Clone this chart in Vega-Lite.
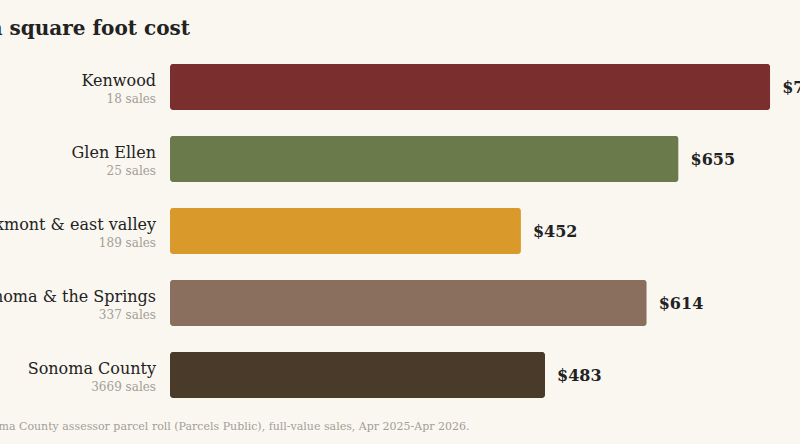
{
  "$schema": "https://vega.github.io/schema/vega-lite/v6.json",
  "autosize": "none",
  "width": 630,
  "height": 360,
  "padding": {"left": 170, "top": 51, "right": 0, "bottom": 33},
  "background": "#faf7f0",
  "config": {"view": {"stroke": null}},
  "title": {
    "text": "Median square foot cost",
    "anchor": "start",
    "frame": "group",
    "align": "right",
    "dx": 20,
    "offset": 12,
    "font": "DejaVu Serif",
    "fontSize": 20,
    "fontWeight": "bold",
    "color": "#222222"
  },
  "data": {
    "values": [
      {"area": "Kenwood", "sales": "18 sales", "cost": 773},
      {"area": "Glen Ellen", "sales": "25 sales", "cost": 655},
      {"area": "Oakmont & east valley", "sales": "189 sales", "cost": 452},
      {"area": "Sonoma & the Springs", "sales": "337 sales", "cost": 614},
      {"area": "Sonoma County", "sales": "3669 sales", "cost": 483}
    ]
  },
  "encoding": {
    "y": {
      "field": "area",
      "type": "nominal",
      "sort": null,
      "scale": {"paddingInner": 0.36, "paddingOuter": 0.18},
      "axis": null
    }
  },
  "layer": [
    {
      "mark": {"type": "bar", "cornerRadius": 3},
      "encoding": {
        "x": {
          "field": "cost",
          "type": "quantitative",
          "scale": {"domain": [0, 811.4], "nice": false},
          "axis": {
            "labels": false,
            "ticks": false,
            "domain": false,
            "grid": false,
            "title": "Source: Sonoma County assessor parcel roll (Parcels Public), full-value sales, Apr 2025-Apr 2026.",
            "titleAnchor": "start",
            "titleAlign": "right",
            "titleX": 299,
            "titleY": 9,
            "titleFont": "DejaVu Serif",
            "titleFontSize": 11,
            "titleFontWeight": "normal",
            "titleColor": "#a29e97"
          }
        },
        "color": {
          "field": "area",
          "type": "nominal",
          "sort": null,
          "scale": {
            "domain": ["Kenwood", "Glen Ellen", "Oakmont & east valley", "Sonoma & the Springs", "Sonoma County"],
            "range": ["#7a2e2e", "#6b7a4a", "#d99a2b", "#8b6f5e", "#4a3a2a"]
          },
          "legend": null
        }
      }
    },
    {
      "mark": {"type": "text", "align": "left", "baseline": "middle", "dx": 12, "dy": 1, "font": "DejaVu Serif", "fontSize": 16, "fontWeight": "bold", "color": "#222222"},
      "encoding": {
        "x": {"field": "cost", "type": "quantitative"},
        "text": {"field": "cost", "type": "quantitative", "format": "$,.0f"}
      }
    },
    {
      "mark": {"type": "text", "align": "right", "baseline": "alphabetic", "dx": -14, "dy": -1, "font": "DejaVu Serif", "fontSize": 16, "color": "#222222"},
      "encoding": {
        "x": {"datum": 0},
        "text": {"field": "area"}
      }
    },
    {
      "mark": {"type": "text", "align": "right", "baseline": "alphabetic", "dx": -14, "dy": 16, "font": "DejaVu Serif", "fontSize": 12, "color": "#a29e97"},
      "encoding": {
        "x": {"datum": 0},
        "text": {"field": "sales"}
      }
    }
  ]
}
